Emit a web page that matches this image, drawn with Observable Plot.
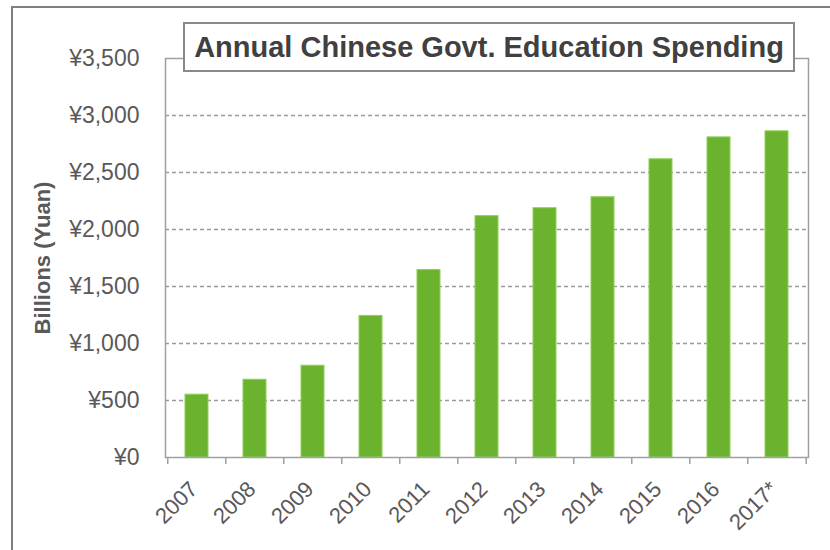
<!DOCTYPE html>
<html>
<head>
<meta charset="utf-8">
<script src="https://cdn.jsdelivr.net/npm/d3@7"></script>
<script src="https://cdn.jsdelivr.net/npm/@observablehq/plot@0.6"></script>
<style>
  html, body { margin: 0; padding: 0; background: #fff; }
  #wrap { position: relative; width: 830px; height: 550px; overflow: hidden; font-family: "Liberation Sans", Arial, sans-serif; }
  #outer { position: absolute; left: 11px; top: 6px; width: 900px; height: 700px; border: 2px solid #7f7f7f; box-sizing: border-box; }
  #chart { position: absolute; left: 0; top: 0; }
  #title { position: absolute; left: 183px; top: 22px; width: 612px; height: 50px; box-sizing: border-box;
           border: 2px solid #8a8a8a; background: #fff; color: #404040; font-weight: bold; font-size: 29px;
           display: flex; align-items: center; justify-content: center; white-space: nowrap; }
</style>
</head>
<body>
<div id="wrap">
  <div id="outer"></div>
  <div id="chart"></div>
  <div id="title">Annual Chinese Govt. Education Spending</div>
</div>
<script>
const years = ["2007","2008","2009","2010","2011","2012","2013","2014","2015","2016","2017*"];
const spending = [551, 682, 805, 1242, 1645, 2117, 2187, 2283, 2616, 2808, 2861];
const yTicks = [0, 500, 1000, 1500, 2000, 2500, 3000, 3500];
const gridTicks = [500, 1000, 1500, 2000, 2500, 3000];
const yLabel = ["Billions (Yuan)"];

const data = years.map((y, i) => ({year: y, value: spending[i]}));

const W = 830, H = 550, mL = 165, mR = 22, mT = 58, mB = 93;
const step = (W - mL - mR) / years.length;
const innerH = H - mT - mB;

const plot = Plot.plot({
  width: W,
  height: H,
  marginLeft: mL,
  marginRight: mR,
  marginTop: mT,
  marginBottom: mB,
  style: {fontFamily: "'Liberation Sans', Arial, sans-serif", background: "transparent", overflow: "visible"},
  x: {domain: years, paddingInner: 0.6, paddingOuter: 0.3, align: 0.5},
  y: {domain: [0, 3500]},
  marks: [
    Plot.gridY(gridTicks, {stroke: "#9a9a9a", strokeOpacity: 1, strokeWidth: 1.3, strokeDasharray: "4,3"}),
    Plot.barY(data, {x: "year", y: "value", fill: "#6bb32e", stroke: "#8fd05a", strokeWidth: 1}),
    Plot.frame({stroke: "#a0a0a0", strokeWidth: 1.5}),
    Plot.ruleX(years, {x: d => d, dx: -step / 2, insetTop: innerH, insetBottom: -7, stroke: "#a0a0a0", strokeWidth: 1.5}),
    Plot.ruleX([years[years.length - 1]], {x: d => d, dx: step / 2, insetTop: innerH, insetBottom: -7, stroke: "#a0a0a0", strokeWidth: 1.5}),
    Plot.axisY(yTicks, {tickSize: 0, tickPadding: 26, label: null, fontSize: 23, fill: "#595959",
      tickFormat: d => "¥" + d3.format(",")(d)}),
    Plot.axisX({tickSize: 0, tickRotate: -45, tickPadding: 28, dx: -3, label: null, fontSize: 22, fill: "#595959"}),
    Plot.text(yLabel, {frameAnchor: "left", textAnchor: "middle", text: d => d, rotate: -90, dx: -123, fontSize: 22, fontWeight: "bold", fill: "#595959"})
  ]
});
document.getElementById("chart").appendChild(plot);
</script>
</body>
</html>
